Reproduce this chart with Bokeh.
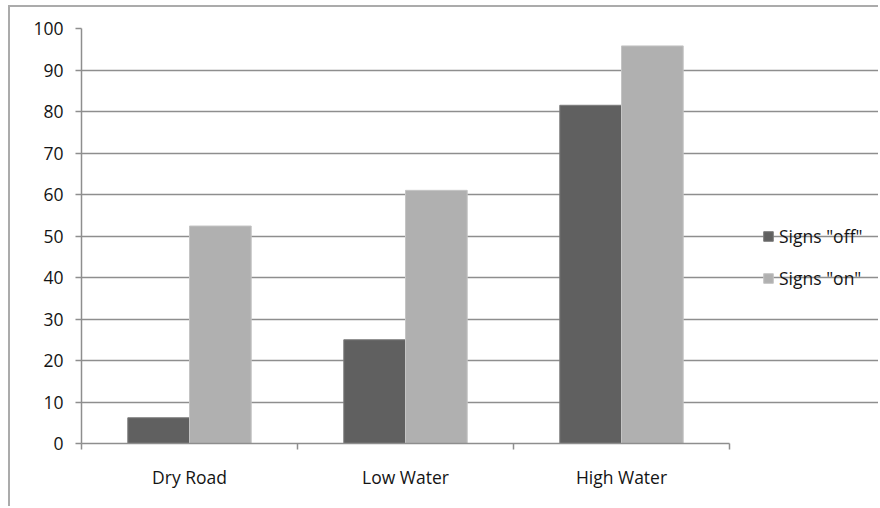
from bokeh.plotting import figure
from bokeh.models import FixedTicker, Legend, LegendItem, Range1d
from bokeh.embed import file_html
from bokeh.resources import INLINE

# Data
categories = ["Dry Road", "Low Water", "High Water"]
signs_off = [6.2, 25, 81.5]
signs_on = [52.4, 61, 95.8]
y_ticks = [0, 10, 20, 30, 40, 50, 60, 70, 80, 90, 100]

FONT = "Open Sans"
FONT_SIZE = "17.5px"
GRID = "#8e8e8e"
DARK = "#606060"
LIGHT = "#b0b0b0"
TEXT = "#141414"

# canvas sits inside a bordered box offset from the page corner
OFF_X, OFF_Y, BW = 8, 5, 2
W = 880 - OFF_X - BW
H = 508 - OFF_Y - BW
left = 81 - OFF_X - BW
top = 28 - OFF_Y - BW
PLOT_W, PLOT_H = 648, 415           # width of the category area, height of the value area

n = len(categories)
frame_w = W - left
x_end = n * frame_w / PLOT_W        # frame runs to the right edge so the legend fits inside it

bar_w = 2 / 7  # gap width 150%
idx = list(range(n))
x_off = [i + 0.5 - bar_w / 2 for i in idx]
x_on = [i + 0.5 + bar_w / 2 for i in idx]

p = figure(width=W, height=H, output_backend="svg", toolbar_location=None,
           x_range=Range1d(0, x_end), y_range=Range1d(0, 100),
           min_border_left=left, min_border_right=0,
           min_border_top=top, min_border_bottom=H - top - PLOT_H)
p.outline_line_color = None
p.background_fill_color = "white"
p.border_fill_color = "white"
p.margin = (OFF_Y, 0, 0, OFF_X)
p.styles = {"border-top": f"{BW}px solid #ababab",
            "border-left": f"{BW}px solid #ababab"}

r_off = p.vbar(x=x_off, top=signs_off, width=bar_w, bottom=0,
               fill_color=DARK, line_color="#7c7c7c", line_width=1)
r_on = p.vbar(x=x_on, top=signs_on, width=bar_w, bottom=0,
              fill_color=LIGHT, line_color="#c4c4c4", line_width=1)

# y axis
p.yaxis.ticker = FixedTicker(ticks=y_ticks)
p.yaxis.axis_line_color = GRID
p.yaxis.axis_line_width = 1.5
p.yaxis.major_tick_line_color = GRID
p.yaxis.major_tick_line_width = 1.5
p.yaxis.major_tick_in = 0
p.yaxis.major_tick_out = 6
p.yaxis.minor_tick_line_color = None
p.yaxis.major_label_standoff = 12
p.yaxis.major_label_text_font = FONT
p.yaxis.major_label_text_font_size = FONT_SIZE
p.yaxis.major_label_text_color = TEXT

# x axis: labels at group centres, ticks at group boundaries
p.xaxis.bounds = (0, n)
p.xaxis.ticker = FixedTicker(ticks=[i + 0.5 for i in idx], minor_ticks=list(range(n + 1)))
p.xaxis.major_label_overrides = {i + 0.5: c for i, c in zip(idx, categories)}
p.xaxis.axis_line_color = GRID
p.xaxis.axis_line_width = 1.5
p.xaxis.major_tick_line_color = None
p.xaxis.major_tick_in = 0
p.xaxis.major_tick_out = 0
p.xaxis.minor_tick_line_color = GRID
p.xaxis.minor_tick_line_width = 1.5
p.xaxis.minor_tick_in = 0
p.xaxis.minor_tick_out = 6
p.xaxis.major_label_standoff = 15
p.xaxis.major_label_text_font = FONT
p.xaxis.major_label_text_font_size = FONT_SIZE
p.xaxis.major_label_text_color = TEXT

p.xgrid.grid_line_color = None
p.ygrid.grid_line_color = GRID
p.ygrid.grid_line_width = 1.5
p.ygrid.grid_line_alpha = 1.0
p.ygrid.bounds = (0, n)

legend = Legend(items=[LegendItem(label='Signs "off"', renderers=[r_off]),
                       LegendItem(label='Signs "on"', renderers=[r_on])],
                location=(681, 153), orientation="vertical",
                border_line_color=None, background_fill_alpha=0,
                padding=0, margin=0, spacing=18,
                glyph_width=12, glyph_height=12, label_standoff=5,
                label_text_font=FONT, label_text_font_size=FONT_SIZE,
                label_text_color=TEXT, label_height=20)
p.add_layout(legend, "center")

open("out.html", "w").write(file_html(p, INLINE))
